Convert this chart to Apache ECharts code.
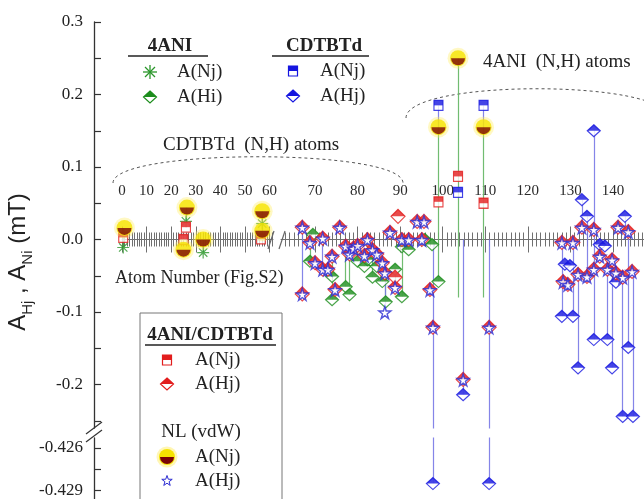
<!DOCTYPE html>
<html><head><meta charset="utf-8">
<script src="https://cdn.jsdelivr.net/npm/echarts@6/dist/echarts.min.js"></script>
<style>html,body{margin:0;padding:0;background:#fff}#c{width:644px;height:499px}</style>
</head><body><div id="c"></div>
<script>
// ---------------- data ----------------
const yTicksUpper = [-0.25,-0.2,-0.15,-0.1,-0.05,0,0.05,0.1,0.15,0.2,0.25,0.3];
const yLabelsUpper = [-0.2,-0.1,0,0.1,0.2,0.3];
const yTicksLower = [-0.426,-0.4275,-0.429];
const yLabelsLower = [-0.426,-0.429];
const xLabelsLeft = [0,10,20,30,40,50,60];
const xLabelsRight = [70,80,90,100,110,120,130,140];
const xMajorRight = [70,80,90,100,110,120,130,140,150];

// 4ANI  A(Nj)  (green asterisk)
const ani4NAtoms  = [0.5, 26, 33, 57];
const ani4NValues = [-0.011, 0.025, -0.018, 0.022];
// 4ANI  A(Hi)  (green diamond)
const ani4HAtoms  = [69.5, 68.8, 74.0, 74.0, 77.2, 78.1, 80.0, 81.6, 82.3, 83.5, 84.5, 85.8, 86.6, 88.8, 90.4, 90.4, 92.0, 95.8, 97.5, 99.0];
const ani4HValues = [0.007, -0.030, -0.051, -0.083, -0.065, -0.076, -0.030, -0.037, -0.028, -0.052, -0.037, -0.058, -0.086, -0.041, -0.010, -0.079, -0.014, 0.000, -0.007, -0.058];
// CDTBTd A(Nj) (blue square)
const cdtNAtoms  = [99.0, 103.6, 109.6];
const cdtNValues = [0.185, 0.065, 0.185];
// CDTBTd A(Hj) (blue diamond)
const cdtHAtoms  = [97.7, 104.8, 110.9, 128.0, 128.7, 129.9, 130.6, 131.8, 132.7, 133.9, 135.5, 135.5, 136.9, 138.1, 138.7, 139.8, 140.7, 142.3, 142.8, 143.6, 144.7];
const cdtHValues = [-0.4285, -0.214, -0.4285, -0.106, -0.034, -0.036, -0.106, -0.177, 0.055, 0.032, 0.150, -0.138, -0.007, -0.009, -0.138, -0.177, -0.059, -0.244, 0.032, -0.149, -0.244];
// 4ANI/CDTBTd A(Nj) (red square)
const cpxNAtoms  = [0.5, 25, 26, 56.5, 99.0, 103.6, 109.6];
const cpxNValues = [0.003, 0.000, 0.017, 0.001, 0.052, 0.087, 0.050];
// 4ANI/CDTBTd A(Hj) (red diamond)
const cpxHAtoms  = [67.0, 67.0, 68.8, 70.0, 71.8, 71.8, 73.0, 74.0, 74.7, 75.8, 77.2, 78.1, 79.0, 80.0, 81.6, 82.3, 83.5, 84.5, 85.8, 86.4, 87.6, 88.8, 88.8, 89.5, 90.4, 92.0, 94.0, 95.1, 95.6, 97.0, 97.7, 104.8, 110.9,
                    128.0, 128.3, 129.4, 130.6, 131.8, 132.7, 133.9, 135.5, 135.5, 136.9, 138.7, 139.8, 140.7, 141.2, 142.3, 143.6, 144.5];
const cpxHValues = [0.017, -0.075, -0.004, -0.032, -0.041, 0.002, -0.041, -0.023, -0.069, 0.017, -0.009, -0.020, -0.012, -0.008, -0.022, 0.000, -0.014, -0.020, -0.032, -0.046, 0.010, -0.066, -0.052, 0.032, 0.000, 0.000, 0.025, 0.000, 0.025, -0.069, -0.121, -0.193, -0.121,
                    -0.004, -0.058, -0.062, -0.004, -0.048, 0.017, -0.051, 0.014, -0.041, -0.023, -0.041, -0.028, -0.046, 0.017, -0.052, 0.011, -0.044];
// NL (vdW) A(Nj) (yellow circle)
const nlNAtoms  = [1.0, 25.0, 26.4, 33.0, 57.0, 57.0, 99.0, 103.6, 109.6];
const nlNValues = [0.016, -0.014, 0.044, 0.000, 0.039, 0.012, 0.155, 0.250, 0.155];
// NL (vdW) A(Hj) (blue star)
const nlHAtoms  = [67.0, 67.0, 68.8, 70.0, 71.8, 71.8, 73.0, 74.0, 74.7, 75.8, 77.2, 78.1, 79.0, 80.0, 81.6, 82.3, 83.5, 84.5, 85.8, 86.4, 86.4, 87.6, 88.8, 90.4, 92.0, 94.0, 95.1, 95.6, 97.0, 97.7, 104.8, 110.9,
                   128.0, 128.3, 129.4, 130.6, 131.8, 132.7, 133.9, 135.5, 135.5, 136.9, 138.7, 139.8, 140.7, 141.2, 142.3, 143.6, 144.5];
const nlHValues = [0.017, -0.075, -0.004, -0.032, -0.041, 0.002, -0.041, -0.023, -0.069, 0.017, -0.009, -0.020, -0.012, -0.008, -0.022, 0.000, -0.014, -0.020, -0.032, -0.046, -0.100, 0.010, -0.066, 0.000, 0.000, 0.025, 0.000, 0.025, -0.069, -0.121, -0.193, -0.121,
                   -0.004, -0.058, -0.062, -0.004, -0.048, 0.017, -0.051, 0.014, -0.041, -0.023, -0.041, -0.028, -0.046, 0.017, -0.052, 0.011, -0.044];
// connecting lines (atom, upper value, lower value)
const greenLineAtoms = [0.5, 26, 33, 57, 68.8, 74.0, 77.2, 78.1, 80.0, 81.6, 82.3, 83.5, 84.5, 85.8, 86.6, 88.8, 90.4, 92.0, 99.0, 103.6, 109.6];
const greenLineTop   = [0.016, 0.044, 0.000, 0.039, -0.004, -0.023, -0.009, -0.020, -0.008, -0.022, 0.000, -0.014, -0.020, -0.032, -0.046, -0.041, 0.000, 0.000, 0.155, 0.250, 0.155];
const greenLineBot   = [-0.011, 0.017, -0.018, 0.012, -0.030, -0.083, -0.065, -0.076, -0.030, -0.037, -0.028, -0.052, -0.037, -0.058, -0.086, -0.066, -0.079, -0.014, -0.058, -0.080, -0.080];
const blueLineAtoms = [67.0, 71.8, 86.4, 97.7, 99.0, 104.8, 109.6, 110.9, 128.0, 130.6, 131.8, 132.7, 133.9, 135.5, 136.9, 138.7, 139.8, 140.7, 142.3, 142.8, 143.6, 144.7];
const blueLineTop   = [0.017, 0.002, -0.046, 0.000, 0.185, 0.000, 0.185, 0.000, -0.004, -0.004, -0.048, 0.055, 0.032, 0.150, -0.007, -0.041, -0.028, -0.046, -0.052, 0.032, 0.011, -0.044];
const blueLineBot   = [-0.075, -0.041, -0.100, -0.4285, 0.155, -0.214, 0.155, -0.4285, -0.106, -0.106, -0.177, 0.017, -0.051, -0.138, -0.023, -0.138, -0.177, -0.059, -0.244, 0.011, -0.149, -0.244];

// ---------------- helpers ----------------
const SERIF = '"Liberation Serif", "Times New Roman", serif';
const SANS = '"Liberation Sans", Arial, sans-serif';
const LEFT = {min: 0, max: 61.4}, RIGHT = {min: 62, max: 152};
const SPLIT_ATOM = 62;
const GX = [0, 1, 2, 3], GY = [0, 1, 2, 3];
function gridOf(a, v) { return (v < -0.3 ? 2 : 0) + (a >= SPLIT_ATOM ? 1 : 0); }

const minorLeft = []; for (let i = 0; i <= 61; i++) minorLeft.push(i);
const minorRight = []; for (let i = 63; i <= 152; i++) minorRight.push(i);

const C = {green: '#1d8d1d', blue: '#1515e0', red: '#e21d1d', yellow: '#f6e400', dark: '#7a0505', star: '#2b2bd2'};
const SYM = {
  asterisk: 'path://M5,0L5,10M0,5L10,5M1.5,1.5L8.5,8.5M8.5,1.5L1.5,8.5',
  star: 'path://M50,0L61.2,34.5L97.6,34.5L68.2,55.9L79.4,90.5L50,69.1L20.6,90.5L31.8,55.9L2.4,34.5L38.8,34.5Z',
  lowerHalf: 'path://M0,0A10,10,0,0,0,20,0Z'
};

function scatter(atoms, values, z, sty) {
  const groups = [[], [], [], []];
  atoms.forEach((a, i) => groups[gridOf(a, values[i])].push([a, values[i]]));
  const out = [];
  groups.forEach((d, g) => {
    if (!d.length) return;
    out.push(Object.assign({type: 'scatter', xAxisIndex: GX[g], yAxisIndex: GY[g], data: d,
      silent: true, animation: false, clip: false, z: z}, sty));
  });
  return out;
}
function lines(atoms, tops, bots, color) {
  const groups = [[], [], [], []];
  atoms.forEach((a, i) => {
    const r = a >= SPLIT_ATOM ? 1 : 0;
    const seg = {coords: [[a, tops[i]], [a, bots[i]]]};
    groups[r].push(seg);
    if (bots[i] < -0.3) groups[2 + r].push(seg);
  });
  const out = [];
  groups.forEach((d, g) => {
    if (!d.length) return;
    out.push({type: 'lines', coordinateSystem: 'cartesian2d', xAxisIndex: GX[g], yAxisIndex: GY[g],
      data: d, polyline: false, clip: true, silent: true, animation: false, z: 2,
      lineStyle: {color: color, width: 1.2, opacity: 0.9, curveness: 0}});
  });
  return out;
}
function halfDiamond(atoms, values, color, w, h, z) {
  return [].concat(
    scatter(atoms, values, z, {symbol: 'diamond', symbolSize: [w, h], itemStyle: {color: '#fff', borderColor: color, borderWidth: 1.2}}),
    scatter(atoms, values, z + 1, {symbol: 'triangle', symbolSize: [w, h / 2], symbolOffset: [0, -h / 4], itemStyle: {color: color}})
  );
}
function halfSquare(atoms, values, color, z) {
  return [].concat(
    scatter(atoms, values, z, {symbol: 'rect', symbolSize: [9, 10], itemStyle: {color: '#fff', borderColor: color, borderWidth: 1.2}}),
    scatter(atoms, values, z + 1, {symbol: 'rect', symbolSize: [9, 5], symbolOffset: [0, -2.5], itemStyle: {color: color}})
  );
}

const series = [].concat(
  lines(greenLineAtoms, greenLineTop, greenLineBot, '#62b562'),
  lines(blueLineAtoms, blueLineTop, blueLineBot, '#7878e6'),
  scatter(ani4NAtoms, ani4NValues, 3, {symbol: SYM.asterisk, symbolSize: 12, itemStyle: {color: 'rgba(0,0,0,0)', borderColor: '#2a962a', borderWidth: 1.2}}),
  halfDiamond(ani4HAtoms, ani4HValues, C.green, 13, 12, 4),
  halfSquare(cdtNAtoms, cdtNValues, C.blue, 6),
  halfDiamond(cdtHAtoms, cdtHValues, C.blue, 13, 12, 8),
  halfSquare(cpxNAtoms, cpxNValues, C.red, 10),
  halfDiamond(cpxHAtoms, cpxHValues, C.red, 14, 14, 12),
  scatter(nlNAtoms, nlNValues, 14, {symbol: 'circle', symbolSize: 21, itemStyle: {color: 'rgba(255,236,90,0.45)'}}),
  scatter(nlNAtoms, nlNValues, 15, {symbol: 'circle', symbolSize: 16, itemStyle: {color: C.yellow}}),
  scatter(nlNAtoms, nlNValues, 16, {symbol: SYM.lowerHalf, symbolSize: [14, 7], symbolOffset: [0, 3.5], itemStyle: {color: C.dark}}),
  scatter(nlHAtoms, nlHValues, 17, {symbol: SYM.star, symbolSize: 12, symbolOffset: [0, 0.5], itemStyle: {color: '#fff', borderColor: C.star, borderWidth: 1.4}})
);

// ---------------- axes / grids ----------------
const gridBase = {outerBoundsMode: 'none', containLabel: false, show: false};
const grid = [
  {left: 122, top: 22, width: 151, height: 406},
  {left: 281, top: 22, width: 383, height: 406},
  {left: 122, top: 438, width: 151, height: 74},
  {left: 281, top: 438, width: 383, height: 74},
  {left: 122, top: 150, width: 151, height: 89.5},
  {left: 122, top: 239.5, width: 151, height: 30},
  {left: 281, top: 150, width: 383, height: 89.5},
  {left: 281, top: 239.5, width: 383, height: 30}
].map(g => Object.assign({}, gridBase, g));

function hiddenX(gi, r) { return {type: 'value', gridIndex: gi, min: r.min, max: r.max, show: false}; }
function tickX(gi, r, pos, len, ticks, labels, line) {
  return {type: 'value', gridIndex: gi, min: r.min, max: r.max, position: pos,
    axisLine: {show: !!line, onZero: false, lineStyle: {color: '#707070', width: 1}},
    axisTick: {show: true, inside: true, length: len, customValues: ticks, lineStyle: {color: '#707070', width: 1}},
    axisLabel: labels ? {show: true, inside: true, margin: 41, customValues: labels, fontFamily: SERIF, fontSize: 15, color: '#2a2a2a'} : {show: false},
    splitLine: {show: false}, minorTick: {show: false}, minorSplitLine: {show: false}};
}
const xAxis = [
  hiddenX(0, LEFT), hiddenX(1, RIGHT), hiddenX(2, LEFT), hiddenX(3, RIGHT),
  tickX(4, LEFT, 'bottom', 13, xLabelsLeft, xLabelsLeft, true),
  tickX(4, LEFT, 'bottom', 7, minorLeft, null, false),
  tickX(5, LEFT, 'top', 13, xLabelsLeft, null, false),
  tickX(5, LEFT, 'top', 7, minorLeft, null, false),
  tickX(6, RIGHT, 'bottom', 13, xMajorRight, xLabelsRight, true),
  tickX(6, RIGHT, 'bottom', 7, minorRight, null, false),
  tickX(7, RIGHT, 'top', 13, xMajorRight, null, false),
  tickX(7, RIGHT, 'top', 7, minorRight, null, false)
];
function visY(gi, min, max, ticks, labels, dec) {
  return {type: 'value', gridIndex: gi, min: min, max: max, position: 'left', offset: 28,
    axisLine: {show: true, onZero: false, lineStyle: {color: '#333', width: 1.3}},
    axisTick: {show: true, inside: true, length: 7, customValues: ticks, lineStyle: {color: '#333', width: 1.2}},
    axisLabel: {show: true, customValues: labels, formatter: v => v.toFixed(dec), margin: 11, fontFamily: SERIF, fontSize: 17, color: '#222'},
    splitLine: {show: false}};
}
const yAxis = [
  visY(0, -0.26, 0.3, yTicksUpper, yLabelsUpper, 1),
  {type: 'value', gridIndex: 1, min: -0.26, max: 0.3, show: false},
  visY(2, -0.4305, -0.4253, yTicksLower, yLabelsLower, 3),
  {type: 'value', gridIndex: 3, min: -0.4305, max: -0.4253, show: false},
  {type: 'value', gridIndex: 4, min: 0, max: 1, show: false},
  {type: 'value', gridIndex: 5, min: 0, max: 1, show: false},
  {type: 'value', gridIndex: 6, min: 0, max: 1, show: false},
  {type: 'value', gridIndex: 7, min: 0, max: 1, show: false}
];

// ---------------- annotations / legend (graphic) ----------------
function txt(t, x, y, extra) {
  return {type: 'text', x: x, y: y, z: 20, style: Object.assign({text: t, font: '19px ' + SERIF, fill: '#222', align: 'left', verticalAlign: 'middle'}, extra || {})};
}
function uline(x1, x2, y) { return {type: 'line', z: 20, shape: {x1: x1, y1: y, x2: x2, y2: y}, style: {stroke: '#222', lineWidth: 1.6}}; }
function gSquare(cx, cy, c) {
  return [{type: 'rect', z: 20, shape: {x: cx - 4.5, y: cy - 5, width: 9, height: 10}, style: {fill: '#fff', stroke: c, lineWidth: 1.2}},
          {type: 'rect', z: 21, shape: {x: cx - 4.5, y: cy - 5, width: 9, height: 5}, style: {fill: c}}];
}
function gDiamond(cx, cy, c) {
  return [{type: 'polygon', z: 20, shape: {points: [[cx, cy - 6], [cx + 6.5, cy], [cx, cy + 6], [cx - 6.5, cy]]}, style: {fill: '#fff', stroke: c, lineWidth: 1.2}},
          {type: 'polygon', z: 21, shape: {points: [[cx, cy - 6], [cx + 6.5, cy], [cx - 6.5, cy]]}, style: {fill: c}}];
}
function gYellow(cx, cy) {
  return [{type: 'circle', z: 20, shape: {cx: cx, cy: cy, r: 10.5}, style: {fill: 'rgba(255,236,90,0.45)'}},
          {type: 'circle', z: 21, shape: {cx: cx, cy: cy, r: 8}, style: {fill: C.yellow}},
          {type: 'sector', z: 22, shape: {cx: cx, cy: cy, r: 7, startAngle: 0, endAngle: Math.PI, clockwise: true}, style: {fill: C.dark}}];
}
function gStar(cx, cy) {
  const p = [];
  for (let k = 0; k < 10; k++) { const a = -Math.PI / 2 + k * Math.PI / 5; const rr = k % 2 ? 2.2 : 5.5; p.push([cx + rr * Math.cos(a), cy + rr * Math.sin(a)]); }
  return [{type: 'polygon', z: 20, shape: {points: p}, style: {fill: '#fff', stroke: C.star, lineWidth: 1}}];
}
function gAsterisk(cx, cy) {
  const s = {stroke: '#2a962a', lineWidth: 1.3}; const r = 7, d = 5;
  return [{type: 'line', z: 20, shape: {x1: cx - r, y1: cy, x2: cx + r, y2: cy}, style: s},
          {type: 'line', z: 20, shape: {x1: cx, y1: cy - r, x2: cx, y2: cy + r}, style: s},
          {type: 'line', z: 20, shape: {x1: cx - d, y1: cy - d, x2: cx + d, y2: cy + d}, style: s},
          {type: 'line', z: 20, shape: {x1: cx - d, y1: cy + d, x2: cx + d, y2: cy - d}, style: s}];
}
const dash = {stroke: '#555', lineWidth: 1, lineDash: [3, 3], fill: 'none'};
const graphics = [].concat(
  [{type: 'bezierCurve', z: 1, shape: {x1: 113, y1: 183, cpx1: 113, cpy1: 148, cpx2: 403, cpy2: 148, x2: 403, y2: 183}, style: dash},
   {type: 'bezierCurve', z: 1, shape: {x1: 406, y1: 118, cpx1: 406, cpy1: 79, cpx2: 668, cpy2: 79, x2: 668, y2: 118}, style: dash}],
  // axis break marks
  [{type: 'line', z: 20, shape: {x1: 86, y1: 434, x2: 102, y2: 422}, style: {stroke: '#333', lineWidth: 1.2}},
   {type: 'line', z: 20, shape: {x1: 86, y1: 442, x2: 102, y2: 430}, style: {stroke: '#333', lineWidth: 1.2}},
   {type: 'line', z: 20, shape: {x1: 268, y1: 249, x2: 274, y2: 231}, style: {stroke: '#666', lineWidth: 1.2}},
   {type: 'line', z: 20, shape: {x1: 279, y1: 249, x2: 285, y2: 231}, style: {stroke: '#666', lineWidth: 1.2}}],
  // y axis title
  [{type: 'text', x: 21, y: 262, rotation: Math.PI / 2, z: 20, style: {
     text: '{m|A}{s|Hj}{m| , A}{s|Ni}{m| (mT)}', align: 'center', verticalAlign: 'middle',
     rich: {m: {fontSize: 24, fontFamily: SANS, fill: '#222', lineHeight: 24, verticalAlign: 'top'},
            s: {fontSize: 15, fontFamily: SANS, fill: '#222', lineHeight: 29, verticalAlign: 'bottom'}}}}],
  // text annotations
  [txt('CDTBTd  (N,H) atoms', 163, 145), txt('4ANI  (N,H) atoms', 483, 62), txt('Atom Number (Fig.S2)', 115, 278, {font: '18px ' + SERIF})],
  // legend 1 : 4ANI
  [txt('4ANI', 170, 46, {font: 'bold 19px ' + SERIF, align: 'center'}), uline(128, 208, 56),
   txt('A(Nj)', 177, 72), txt('A(Hi)', 177, 97)],
  gAsterisk(150, 72), gDiamond(150, 97, C.green),
  // legend 2 : CDTBTd
  [txt('CDTBTd', 324, 46, {font: 'bold 19px ' + SERIF, align: 'center'}), uline(272, 369, 56),
   txt('A(Nj)', 320, 71), txt('A(Hj)', 320, 96)],
  gSquare(293, 71, C.blue), gDiamond(293, 96, C.blue),
  // legend 3 box
  [{type: 'rect', z: 19, shape: {x: 140, y: 313, width: 142, height: 200}, style: {fill: '#fff', stroke: '#777', lineWidth: 1}},
   txt('4ANI/CDTBTd', 210, 335, {font: 'bold 19px ' + SERIF, align: 'center'}), uline(145, 276, 345),
   txt('A(Nj)', 195, 360), txt('A(Hj)', 195, 384), txt('NL (vdW)', 201, 432, {align: 'center'}),
   txt('A(Nj)', 195, 457), txt('A(Hj)', 195, 481)],
  gSquare(167, 360, C.red), gDiamond(167, 384, C.red), gYellow(167, 457), gStar(167, 481)
);

const chart = echarts.init(document.getElementById('c'), null, {renderer: 'canvas', width: 644, height: 499});
chart.setOption({
  animation: false,
  backgroundColor: '#fff',
  grid: grid,
  xAxis: xAxis,
  yAxis: yAxis,
  series: series,
  graphic: {elements: graphics}
});
</script>
</body></html>
